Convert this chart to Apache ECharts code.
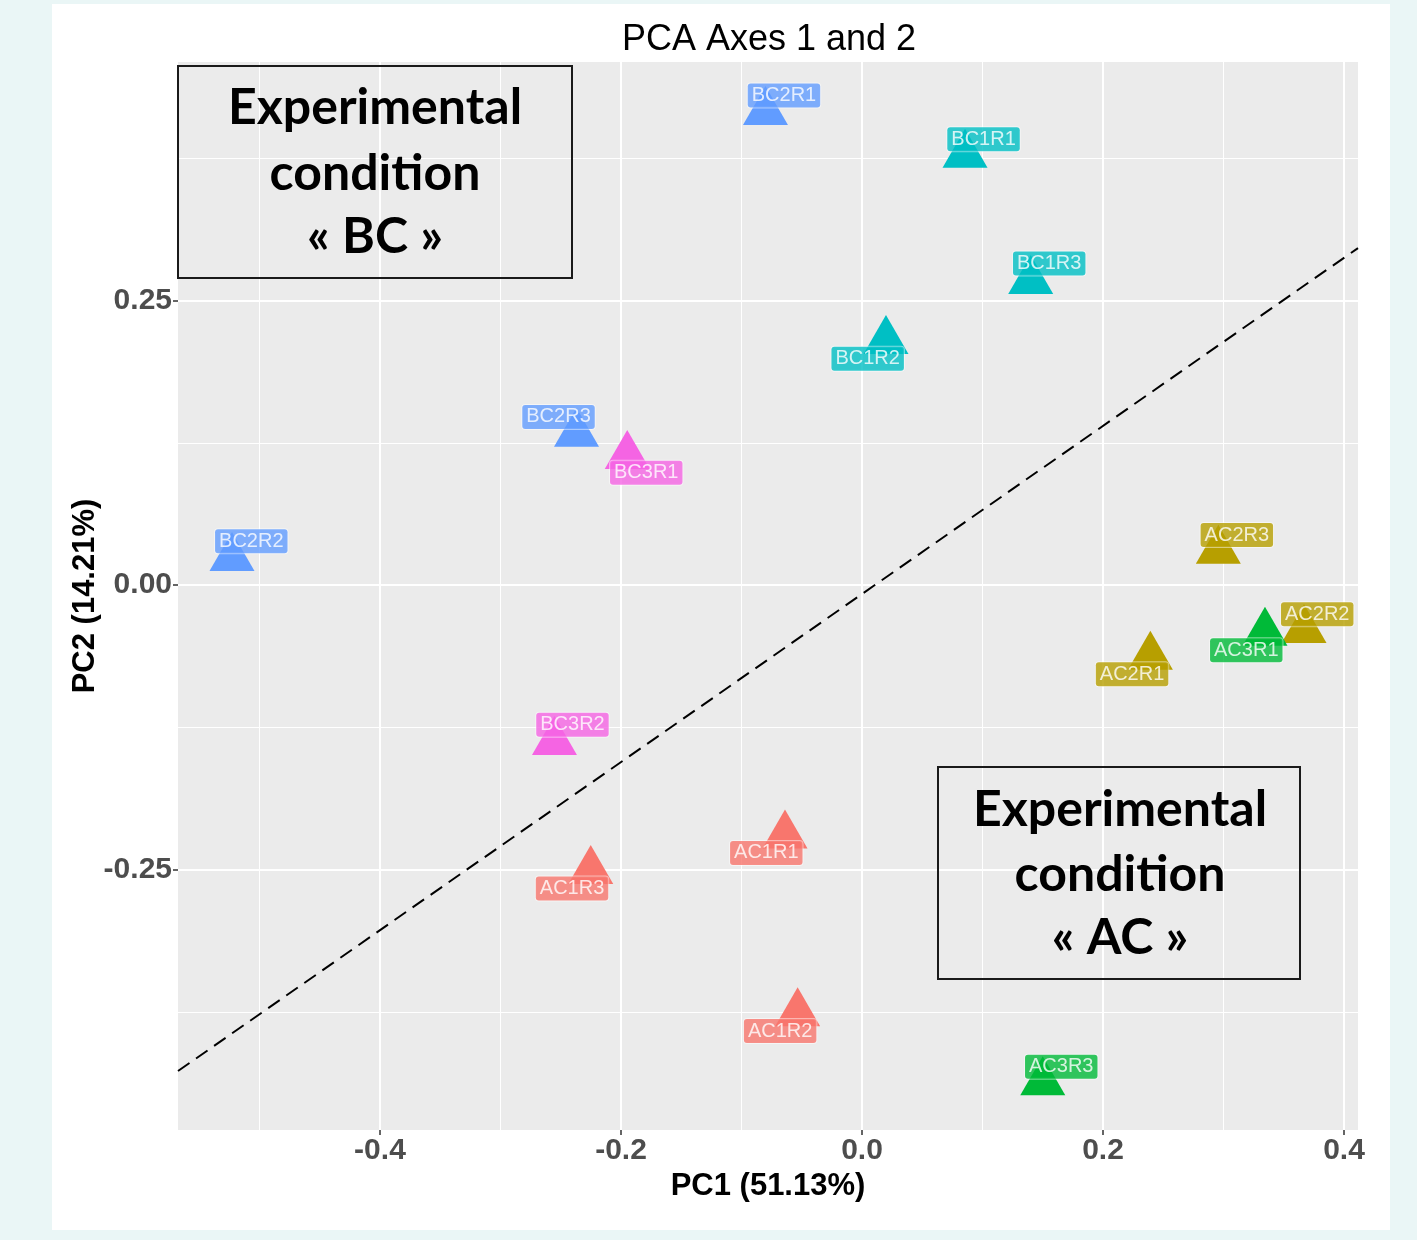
<!DOCTYPE html>
<html><head><meta charset="utf-8">
<script src="https://cdn.jsdelivr.net/npm/echarts@6/dist/echarts.min.js"></script>
<style>
html,body{margin:0;padding:0;background:#eaf6f6;width:1417px;height:1240px;overflow:hidden;}
#sheet{position:absolute;left:52px;top:4px;width:1338px;height:1226px;background:#fff;}
#chart{position:absolute;left:0;top:0;width:1417px;height:1240px;}
</style></head><body>
<div id="sheet"></div><div id="chart"></div>
<script>
// ---------------- data ----------------
const SAMPLES = ['AC1R1','AC1R2','AC1R3','AC2R1','AC2R2','AC2R3','AC3R1','AC3R3',
                 'BC1R1','BC1R2','BC1R3','BC2R1','BC2R2','BC2R3','BC3R1','BC3R2'];
const PC1 = [-0.0639,-0.0534,-0.2251, 0.2393, 0.3668, 0.2957, 0.3344, 0.1500,
              0.0855, 0.0199, 0.1400,-0.0801,-0.5228,-0.2369,-0.1948,-0.2552];
const PC2 = [-0.2200,-0.3764,-0.2513,-0.0630,-0.0395, 0.0301,-0.0419,-0.4370,
              0.3781, 0.2144, 0.2671, 0.4157, 0.0237, 0.1330, 0.1134,-0.1380];
const GROUPS = ['AC1','AC2','AC3','BC1','BC2','BC3'];
const X_TICKS = [-0.4,-0.2,0,0.2,0.4];
const X_MINOR = [-0.5,-0.3,-0.1,0.1,0.3];
const Y_TICKS = [-0.25,0,0.25];
const Y_MINOR = [-0.375,-0.125,0.125,0.375];
const X_RANGE = [-0.5676, 0.4116];
const Y_RANGE = [-0.4789, 0.4596];
const REF_LINE_X = [-0.5676, 0.4116];
const REF_LINE_Y = [-0.4271, 0.2961];
const TITLE = 'PCA Axes 1 and 2';
const X_NAME = 'PC1 (51.13%)';
const Y_NAME = 'PC2 (14.21%)';
const BOX_BC = ['Experimental','condition','« BC »'];
const BOX_AC = ['Experimental','condition','« AC »'];

// ---------------- style ----------------
const GROUP_COLORS = ['#F8766D','#B79F00','#00BA38','#00BFC4','#619CFF','#F564E3'];
// label nudges in pixels (repel placement)
const LABEL_DX = [-18.7,-17.5,-18.7,-18.3, 13.2, 18.5,-18.7, 18.5,
                   18.5,-18.3, 18.5, 18.5, 19.3,-18.0, 19.0, 18.0];
const LABEL_DY = [ 17.5, 17.7, 17.5, 17.5,-15.7,-15.7, 17.6,-15.5,
                  -15.5, 17.8,-17.5,-16.5,-16.7,-16.7, 16.8,-17.2];
const FONT = 'Liberation Sans, Arial, sans-serif';

const chart = echarts.init(document.getElementById('chart'), null, {renderer:'canvas'});

const groupOf = s => s.slice(0,3);
const pointSeries = GROUPS.map((g, gi) => ({
  type:'scatter', name:g, silent:true, z:3,
  symbol:'triangle', symbolSize:[45,39], symbolOffset:[0,-6.5],
  itemStyle:{color:GROUP_COLORS[gi], opacity:1},
  data: SAMPLES.map((s,i)=>[PC1[i],PC2[i],s]).filter(d=>groupOf(d[2])===g)
}));

const labelSeries = {
  type:'scatter', name:'labels', silent:true, z:5,
  symbol:'circle', symbolSize:1,
  itemStyle:{color:'rgba(0,0,0,0)'},
  data: SAMPLES.map((s,i)=>({
    value:[PC1[i],PC2[i]],
    label:{
      show:true, position:'inside', formatter:s,
      offset:[LABEL_DX[i], LABEL_DY[i]],
      color:'#fff', fontSize:20, fontFamily:FONT,
      backgroundColor:GROUP_COLORS[GROUPS.indexOf(groupOf(s))],
      borderColor:'rgba(255,255,255,0.6)', borderWidth:1,
      borderRadius:3, padding:[2,4,1,4], lineHeight:21
    }
  }))
};

const lineSeries = {
  type:'line', silent:true, z:2, symbol:'none',
  data: REF_LINE_X.map((x,i)=>[x, REF_LINE_Y[i]]),
  lineStyle:{color:'#000', width:2, type:[14,8]}
};

const tickLabelStyle = {fontSize:30, fontWeight:'bold', color:'#4d4d4d', fontFamily:FONT};
const nameStyle = {fontSize:31, fontWeight:'bold', color:'#000', fontFamily:FONT};

function boxText(lines, cx, ys){
  return lines.map((t,k)=>({
    type:'text', z:10, silent:true,
    style:{text:t, x:cx, y:ys[k], textAlign:'center', textVerticalAlign:'middle',
           fontSize:50, fontWeight:'bold', fontFamily:'Lato, sans-serif', fill:'#000'}
  }));
}

chart.setOption({
  animation:false,
  backgroundColor:'transparent',
  title:{text:TITLE, left:764, top:17, textAlign:'center',
         textStyle:{fontSize:36, fontWeight:'normal', color:'#000', fontFamily:FONT}},
  grid:{left:178, top:62, right:59, bottom:110, show:true, backgroundColor:'#EBEBEB', borderWidth:0},
  xAxis:[
    {type:'value', min:X_RANGE[0], max:X_RANGE[1], position:'bottom',
     axisLine:{show:false, onZero:false},
     axisTick:{show:true, length:5, customValues:X_TICKS, lineStyle:{color:'#333', width:1.5}},
     axisLabel:{customValues:X_TICKS, formatter:v=>v.toFixed(1), margin:6, ...tickLabelStyle},
     splitLine:{show:true, lineStyle:{color:'#fff', width:2}},
     name:X_NAME, nameLocation:'middle', nameGap:40, nameTextStyle:nameStyle},
    {type:'value', min:X_RANGE[0], max:X_RANGE[1], position:'bottom',
     axisLine:{show:false, onZero:false},
     axisTick:{show:false, customValues:X_MINOR},
     axisLabel:{show:false, customValues:X_MINOR},
     splitLine:{show:true, lineStyle:{color:'#fff', width:1}}}
  ],
  yAxis:[
    {type:'value', min:Y_RANGE[0], max:Y_RANGE[1], position:'left',
     axisLine:{show:false, onZero:false},
     axisTick:{show:true, length:5, customValues:Y_TICKS, lineStyle:{color:'#333', width:1.5}},
     axisLabel:{customValues:Y_TICKS, formatter:v=>v.toFixed(2), margin:6, ...tickLabelStyle},
     splitLine:{show:true, lineStyle:{color:'#fff', width:2}},
     name:Y_NAME, nameLocation:'middle', nameGap:77, nameMoveOverlap:false, nameTextStyle:nameStyle},
    {type:'value', min:Y_RANGE[0], max:Y_RANGE[1], position:'left',
     axisLine:{show:false, onZero:false},
     axisTick:{show:false, customValues:Y_MINOR},
     axisLabel:{show:false, customValues:Y_MINOR},
     splitLine:{show:true, lineStyle:{color:'#fff', width:1}}}
  ],
  series:[lineSeries, ...pointSeries, labelSeries],
  graphic:[
    {type:'rect', z:9, silent:true, shape:{x:178, y:66, width:394, height:212},
     style:{fill:'none', stroke:'#1a1a1a', lineWidth:2}},
    ...boxText(BOX_BC, 375, [108,174,237]),
    {type:'rect', z:9, silent:true, shape:{x:938, y:767, width:362, height:212},
     style:{fill:'none', stroke:'#1a1a1a', lineWidth:2}},
    ...boxText(BOX_AC, 1120, [810,875,938])
  ]
});
</script>
</body></html>
